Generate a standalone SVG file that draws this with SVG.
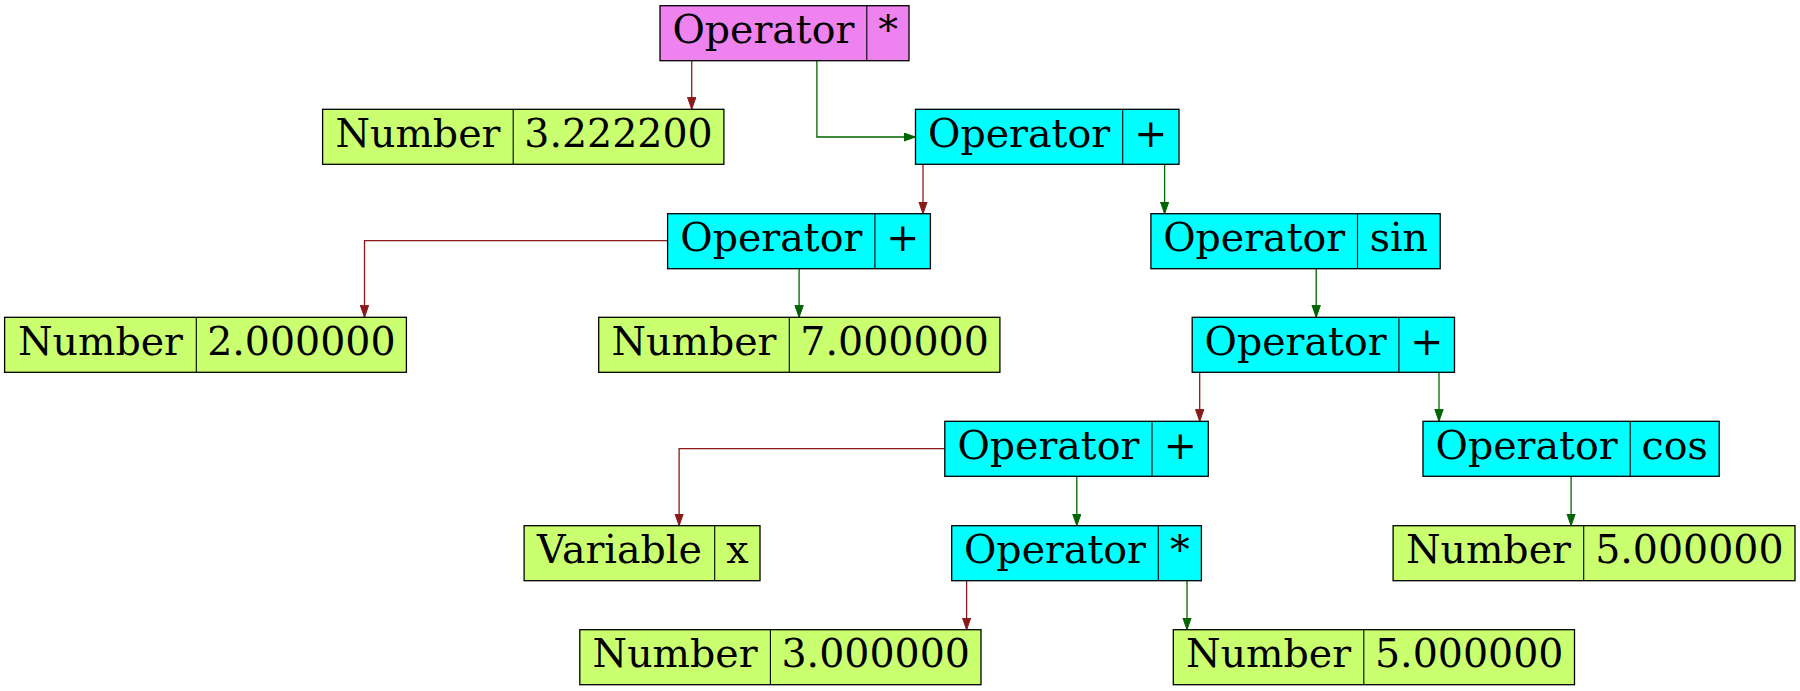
<svg xmlns="http://www.w3.org/2000/svg" width="1800" height="691" viewBox="0 0 1800 691">
<style>
.box{stroke:#000;stroke-width:1.3}
.div{stroke:#000;stroke-width:1.1}
.op{fill:#00FFFF}
.root{fill:#EE82EE}
.num{fill:#CAFF70}
text{font-family:"DejaVu Serif","Liberation Serif",serif;font-size:39.5px;fill:#000;text-anchor:middle}
.r{fill:none;stroke:#8B1A1A;stroke-width:1.3;marker-end:url(#ar)}
.g{fill:none;stroke:#006400;stroke-width:1.3;marker-end:url(#ag)}
</style>
<defs>
<marker id="ar" markerUnits="userSpaceOnUse" markerWidth="13" markerHeight="10" refX="12" refY="4.5" orient="auto"><path d="M0,0.3 L12,4.5 L0,8.7 z" fill="#8B1A1A" stroke="#8B1A1A" stroke-width="1"/></marker>
<marker id="ag" markerUnits="userSpaceOnUse" markerWidth="13" markerHeight="10" refX="12" refY="4.5" orient="auto"><path d="M0,0.3 L12,4.5 L0,8.7 z" fill="#006400" stroke="#006400" stroke-width="1"/></marker>
</defs>
<rect width="1800" height="691" fill="#fff"/>
<g id="connectors">
<path class="r" d="M691.7,60.7 V109.3"/>
<path class="g" d="M816.9,60.7 V137 H915.5"/>
<path class="r" d="M923,164.7 V213.7"/>
<path class="g" d="M1164.6,164.7 V213.7"/>
<path class="r" d="M667.6,240.7 H364.5 V317.3"/>
<path class="g" d="M799.1,268.7 V317.3"/>
<path class="g" d="M1316.2,268.7 V317.3"/>
<path class="r" d="M1199.7,372.3 V421.3"/>
<path class="g" d="M1439,372.3 V421.3"/>
<path class="r" d="M944.8,448.7 H679.1 V525.7"/>
<path class="g" d="M1076.8,476.3 V525.7"/>
<path class="g" d="M1571.1,476.3 V525.7"/>
<path class="r" d="M966.6,580.3 V629.7"/>
<path class="g" d="M1187,580.3 V629.7"/>
</g>
<g id="root">
<rect class="box root" x="660" y="5.7" width="249" height="55"/>
<line class="div" x1="866.8" y1="5.7" x2="866.8" y2="60.7"/>
<text x="763.4" y="43.2">Operator</text><text x="888" y="43.2">*</text>
</g>
<g id="num_3_2222">
<rect class="box num" x="322.6" y="109.3" width="401.3" height="55"/>
<line class="div" x1="513.2" y1="109.3" x2="513.2" y2="164.3"/>
<text x="417.9" y="146.8">Number</text><text x="618.5" y="146.8">3.222200</text>
</g>
<g id="op_plus_1">
<rect class="box op" x="915.5" y="109.3" width="263.5" height="55"/>
<line class="div" x1="1122.7" y1="109.3" x2="1122.7" y2="164.3"/>
<text x="1019.1" y="146.8">Operator</text><text x="1150.9" y="146.8">+</text>
</g>
<g id="op_plus_2">
<rect class="box op" x="667.6" y="213.7" width="262.8" height="55"/>
<line class="div" x1="874.9" y1="213.7" x2="874.9" y2="268.7"/>
<text x="771.3" y="251.2">Operator</text><text x="902.7" y="251.2">+</text>
</g>
<g id="op_sin">
<rect class="box op" x="1150.9" y="213.7" width="289.3" height="55"/>
<line class="div" x1="1357.5" y1="213.7" x2="1357.5" y2="268.7"/>
<text x="1254.2" y="251.2">Operator</text><text x="1398.9" y="251.2">sin</text>
</g>
<g id="num_2">
<rect class="box num" x="4.6" y="317.3" width="401.8" height="55"/>
<line class="div" x1="196.3" y1="317.3" x2="196.3" y2="372.3"/>
<text x="100.5" y="354.8">Number</text><text x="301.4" y="354.8">2.000000</text>
</g>
<g id="num_7">
<rect class="box num" x="598.7" y="317.3" width="401.2" height="55"/>
<line class="div" x1="789.3" y1="317.3" x2="789.3" y2="372.3"/>
<text x="694" y="354.8">Number</text><text x="894.6" y="354.8">7.000000</text>
</g>
<g id="op_plus_3">
<rect class="box op" x="1192.2" y="317.3" width="262.3" height="55"/>
<line class="div" x1="1398.9" y1="317.3" x2="1398.9" y2="372.3"/>
<text x="1295.6" y="354.8">Operator</text><text x="1426.7" y="354.8">+</text>
</g>
<g id="op_plus_4">
<rect class="box op" x="944.8" y="421.3" width="263.5" height="55"/>
<line class="div" x1="1152" y1="421.3" x2="1152" y2="476.3"/>
<text x="1048.4" y="458.8">Operator</text><text x="1180.2" y="458.8">+</text>
</g>
<g id="op_cos">
<rect class="box op" x="1423" y="421.3" width="296.2" height="55"/>
<line class="div" x1="1630.2" y1="421.3" x2="1630.2" y2="476.3"/>
<text x="1526.6" y="458.8">Operator</text><text x="1674.7" y="458.8">cos</text>
</g>
<g id="var_x">
<rect class="box num" x="524.1" y="525.7" width="235.9" height="55"/>
<line class="div" x1="714.7" y1="525.7" x2="714.7" y2="580.7"/>
<text x="619.4" y="563.2">Variable</text><text x="737.4" y="563.2">x</text>
</g>
<g id="op_mul">
<rect class="box op" x="951.7" y="525.7" width="249.7" height="55"/>
<line class="div" x1="1158.3" y1="525.7" x2="1158.3" y2="580.7"/>
<text x="1055" y="563.2">Operator</text><text x="1179.9" y="563.2">*</text>
</g>
<g id="num_5_a">
<rect class="box num" x="1393.1" y="525.7" width="401.9" height="55"/>
<line class="div" x1="1583.7" y1="525.7" x2="1583.7" y2="580.7"/>
<text x="1488.4" y="563.2">Number</text><text x="1689.4" y="563.2">5.000000</text>
</g>
<g id="num_3">
<rect class="box num" x="579.8" y="629.7" width="401.2" height="55"/>
<line class="div" x1="770.4" y1="629.7" x2="770.4" y2="684.7"/>
<text x="675.1" y="667.2">Number</text><text x="875.7" y="667.2">3.000000</text>
</g>
<g id="num_5_b">
<rect class="box num" x="1173.3" y="629.7" width="401.2" height="55"/>
<line class="div" x1="1363.8" y1="629.7" x2="1363.8" y2="684.7"/>
<text x="1268.6" y="667.2">Number</text><text x="1469.2" y="667.2">5.000000</text>
</g>
</svg>
